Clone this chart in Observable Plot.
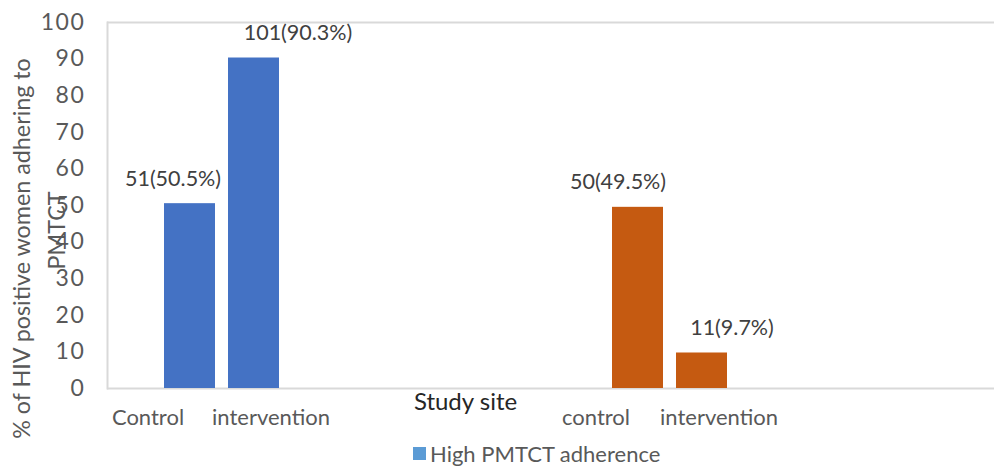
<!DOCTYPE html>
<html>
<head>
<meta charset="utf-8">
<script src="https://cdn.jsdelivr.net/npm/d3@7"></script>
<script src="https://cdn.jsdelivr.net/npm/@observablehq/plot@0.6"></script>
<style>
  html, body { margin: 0; padding: 0; background: #fff; }
  #chart { width: 994px; font-family: Lato, sans-serif; font-variant-numeric: tabular-nums; }
  #chart svg text { font-variant-numeric: tabular-nums; }
  #chart svg g[aria-label="y-axis tick label"] text { letter-spacing: 1.6px; }
  .legend { display: flex; align-items: center; justify-content: flex-start; height: 26px;
            padding-left: 413px; color: #595959; font-size: 22px; }
  .legend .sw { width: 13px; height: 13px; background: #5B9BD5; margin-right: 4px; }
</style>
</head>
<body>
<div id="chart"></div>
<script>
// Study arms and adherence groups
const sites = ["Control", "intervention", "control", "intervention"];
const adherence = ["High", "High", "Low", "Low"];
const counts = [51, 101, 50, 11];
const percents = [50.5, 90.3, 49.5, 9.7];
const yTicks = [0, 10, 20, 30, 40, 50, 60, 70, 80, 90, 100];
const yTitleLines = ["% of HIV positive women adhering to", "PMTCT"];
const xTitle = "Study site";
const legendLabel = "High PMTCT adherence";

const colors = {High: "#4472C4", Low: "#C55A11"};

const rows = sites.map((s, i) => ({
  key: adherence[i] + "|" + s,
  site: s,
  group: adherence[i],
  count: counts[i],
  pct: percents[i],
  label: `${counts[i]}(${percents[i]}%)`
}));

// band domain: the two groups separated by empty slots
const highKeys = rows.filter(d => d.group === "High").map(d => d.key);
const lowKeys = rows.filter(d => d.group === "Low").map(d => d.key);
const xDomain = [...highKeys, "_g1", "_g2", "_g3", "_g4", "_g5", ...lowKeys, "_g6", "_g7", "_g8"];
const siteOf = new Map(rows.map(d => [d.key, d.site]));

const firstKeys = [highKeys[0], lowKeys[0]];
const secondKeys = [highKeys[1], lowKeys[1]];

// value label nudges, per bar
const labelDx = [-17, 44, -20, 30];

const textColor = "#595959";

const chart = Plot.plot({
  width: 994,
  height: 440,
  marginLeft: 107,
  marginRight: 0,
  marginTop: 22,
  marginBottom: 52,
  style: {fontFamily: "Lato, sans-serif", color: textColor, background: "#fff"},
  x: {domain: xDomain, paddingInner: 0.2, paddingOuter: 0.984, align: 0.434},
  y: {domain: [0, 100]},
  marks: [
    Plot.ruleY([0, 100], {stroke: "#d9d9d9", strokeWidth: 2}),
    Plot.frame({anchor: "left", stroke: "#d9d9d9", strokeWidth: 2}),
    Plot.barY(rows, {x: "key", y: "pct", fill: d => colors[d.group]}),
    ...rows.map((d, i) => Plot.text([d], {
      x: "key", y: "pct", text: "label", dy: -25, dx: labelDx[i],
      fontSize: 21.5, fill: "#404040"
    })),
    Plot.axisY({ticks: yTicks, tickSize: 0, tickPadding: 22, fontSize: 23, label: null, fill: textColor}),
    Plot.axisX({ticks: firstKeys, tickFormat: k => siteOf.get(k), tickSize: 0, tickPadding: 21,
      dx: -42, fontSize: 22, label: null, fill: textColor}),
    Plot.axisX({ticks: secondKeys, tickFormat: k => siteOf.get(k), tickSize: 0, tickPadding: 21,
      dx: 17, fontSize: 22, label: null, fill: textColor}),
    Plot.text([xTitle], {frameAnchor: "bottom", dx: -85.5, dy: 14, fontSize: 24, fill: "#262626",
      textAnchor: "middle", lineAnchor: "middle"}),
    // vertical axis title, wrapped onto two lines
    Plot.text([yTitleLines[0]], {frameAnchor: "left", dx: -84.5, dy: 43, rotate: -90, fontSize: 23.3,
      textAnchor: "middle", lineAnchor: "middle", fill: textColor}),
    Plot.text([yTitleLines[1]], {frameAnchor: "left", dx: -49.5, dy: 25, rotate: -90, fontSize: 23.3,
      textAnchor: "middle", lineAnchor: "middle", fill: textColor})
  ]
});

const root = document.getElementById("chart");
root.appendChild(chart);
const legend = document.createElement("div");
legend.className = "legend";
legend.innerHTML = `<span class="sw"></span><span>${legendLabel}</span>`;
root.appendChild(legend);
</script>
</body>
</html>
